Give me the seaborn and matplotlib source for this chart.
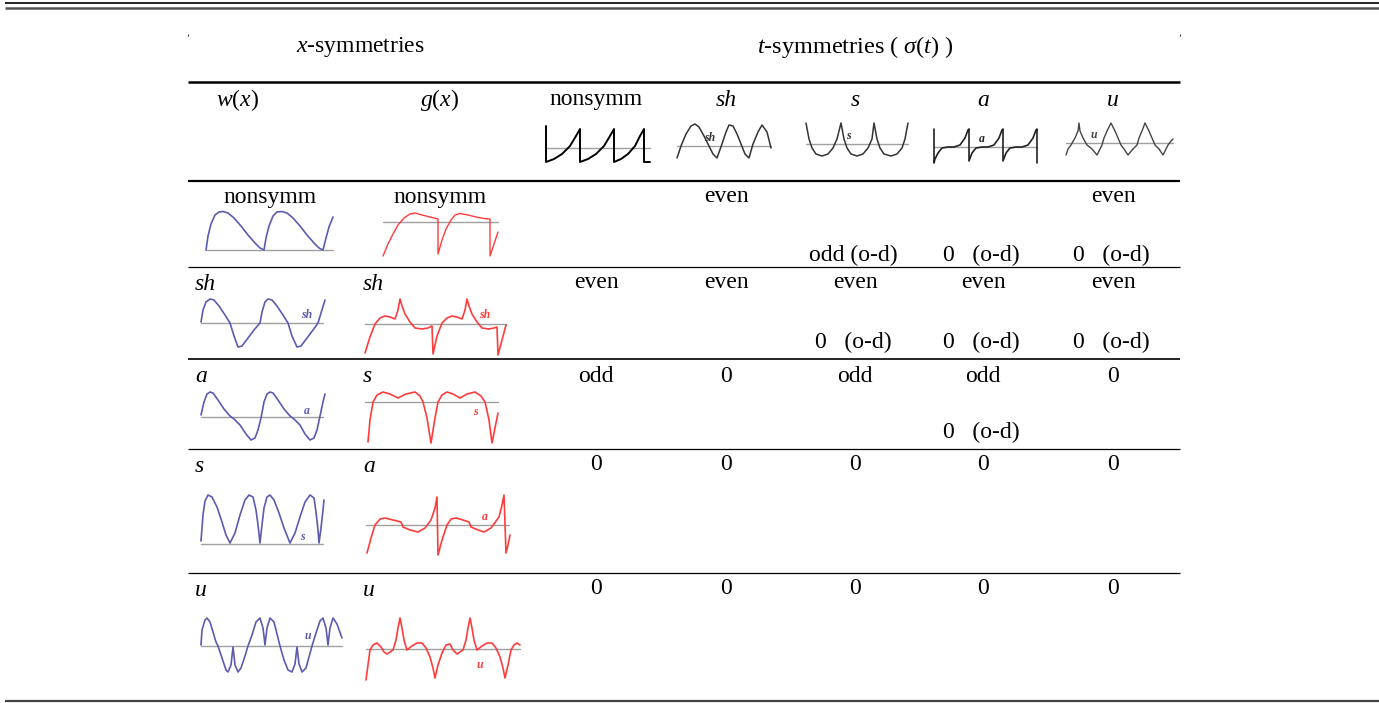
import numpy as np
import pandas as pd
import matplotlib
matplotlib.use("Agg")
import matplotlib.pyplot as plt
import seaborn as sns

sns.set_theme(style="white")
plt.rcParams['font.family'] = ['Liberation Serif', 'DejaVu Serif']
plt.rcParams['mathtext.fontset'] = 'custom'
plt.rcParams['mathtext.rm'] = 'Liberation Serif'
plt.rcParams['mathtext.it'] = 'Liberation Serif:italic'
plt.rcParams['mathtext.bf'] = 'Liberation Serif:bold'
plt.rcParams['text.color'] = 'black'

# ---------------- table content ----------------
col_headers = ['nonsymm', 'sh', 's', 'a', 'u']
col_italic = [False, True, True, True, True]
w_labels = ['nonsymm', 'sh', 'a', 's', 'u']
g_labels = ['nonsymm', 'sh', 's', 'a', 'u']
cell_top = [
    ['', 'even', '', '', 'even'],
    ['even', 'even', 'even', 'even', 'even'],
    ['odd', '0', 'odd', 'odd', '0'],
    ['0', '0', '0', '0', '0'],
    ['0', '0', '0', '0', '0'],
]
cell_bottom = [
    ['', '', 'odd (o-d)', '0   (o-d)', '0   (o-d)'],
    ['', '', '0   (o-d)', '0   (o-d)', '0   (o-d)'],
    ['', '', '', '0   (o-d)', ''],
    ['', '', '', '', ''],
    ['', '', '', '', ''],
]

# ---------------- waveform sketches ----------------
# header t-symmetry sketches sigma(t)
hdr_nonsymm_x = [0, 0, 8, 16, 24, 30, 34, 34, 42, 50, 58, 64, 68, 68, 75, 82, 89, 94, 98, 98, 104]
hdr_nonsymm_y = [22, -14, -11, -6, 2, 12, 19, -14, -11, -6, 2, 12, 19, -14, -11, -6, 2, 12, 19, -14, -14]
hdr_sh_x = [0, 4, 9, 14, 18, 22, 27, 32, 36, 40, 45, 49, 52, 56, 60, 64, 68, 72, 76, 81, 85, 90, 94]
hdr_sh_y = [-12, 0, 12, 20, 22, 19, 10, 0, -8, -12, 2, 14, 21, 20, 12, 2, -8, -12, 2, 14, 21, 14, -2]
hdr_s_x = [0, 3, 6, 10, 16, 22, 27, 31, 35, 38, 41, 45, 51, 57, 62, 66, 68, 71, 74, 78, 85, 91, 96, 99, 102]
hdr_s_y = [21, 5, -4, -10, -12, -10, -4, 5, 21, 5, -4, -10, -12, -10, -4, 5, 21, 5, -4, -10, -12, -10, -4, 5, 21]
hdr_a_x = [0, 0, 1, 4, 8, 14, 20, 26, 31, 34, 35, 35, 38, 42, 48, 54, 60, 65, 68, 69, 69, 72, 76, 82, 88, 94, 99, 102, 103, 103]
hdr_a_y = [18, -16, -12, -6, -1, 0, 0, 2, 9, 17, 18, -14, -6, -1, 0, 0, 2, 9, 17, 18, -14, -6, -1, 0, 0, 2, 9, 17, 18, -16]
hdr_u_x = [0, 2, 5, 9, 12, 13, 14, 17, 21, 26, 31, 34, 36, 38, 41, 45, 49, 52, 55, 58, 62, 67, 71, 73, 76, 79, 83, 86, 89, 93, 97, 100, 102, 105, 107]
hdr_u_y = [-12, -6, -2, 5, 12, 20, 12, 5, -2, -6, -12, -6, -2, 5, 12, 20, 12, 5, -2, -6, -12, -6, -2, 5, 12, 20, 12, 5, -2, -6, -12, -6, -2, 2, 4]

# x-symmetry sketches w(x) (blue)
w_nonsymm_x = [0, 2, 5, 9, 13, 17, 22, 28, 35, 42, 49, 54, 58, 60, 63, 67, 71, 76, 81, 87, 94, 101, 108, 113, 117, 120, 123, 127]
w_nonsymm_y = [0, 14, 26, 35, 38, 38.5, 37, 32, 24, 15, 7, 2, 0, 12, 24, 34, 38, 38.5, 37, 32, 24, 15, 7, 2, 0, 12, 23, 33]
w_sh_x = [0, 2, 5, 9, 13, 18, 24, 29, 33, 37, 41, 47, 53, 59, 61, 64, 67, 71, 76, 82, 87, 91, 96, 100, 106, 112, 117, 120, 124]
w_sh_y = [1, 13, 21, 24, 23, 17, 8, 0, -13, -24, -23, -15, -7, 0, 11, 21, 24, 23, 17, 8, 0, -13, -24, -23, -15, -7, 0, 10, 23]
w_a_x = [0, 3, 6, 9, 12, 17, 23, 29, 33, 39, 45, 50, 54, 57, 60, 63, 66, 69, 72, 77, 83, 89, 93, 99, 104, 109, 113, 116, 119, 122, 124]
w_a_y = [2, 15, 23, 25, 24, 17, 8, 1, -2, -8, -17, -23, -21, -13, -1, 15, 23, 25, 24, 17, 8, 1, -2, -8, -17, -23, -21, -13, 1, 15, 23]
w_s_x = [0, 2, 4, 7, 11, 16, 21, 25, 29, 34, 39, 44, 48, 52, 55, 57, 59, 61, 63, 66, 69, 73, 78, 83, 89, 94, 99, 104, 109, 113, 115, 117, 118, 120, 122, 123]
w_s_y = [3, 29, 43, 49, 47, 37, 22, 9, 1, 11, 29, 44, 49, 47, 34, 19, 1, 19, 36, 47, 49, 44, 31, 16, 1, 11, 27, 42, 49, 46, 32, 14, 1, 16, 34, 44]
w_u_x = [0, 1, 4, 6, 9, 12, 15, 17, 21, 25, 27, 30, 32, 34, 37, 40, 44, 47, 51, 55, 59, 62, 64, 66, 69, 73, 76, 79, 83, 87, 91, 94, 96, 98, 101, 105, 108, 111, 115, 119, 122, 125, 127, 129, 132, 136, 141]
w_u_y = [1, 16, 26, 28, 24, 14, 4, 0, -12, -24, -26, -19, -1, -19, -26, -22, -10, 0, 11, 24, 28, 18, 1, 18, 28, 24, 12, 0, -14, -24, -26, -18, -1, -18, -26, -22, -11, 0, 13, 25, 28, 18, 1, 18, 28, 22, 8]

# x-symmetry sketches g(x) (red)
g_nonsymm_x = [0, 5, 10, 15, 21, 27, 32, 39, 47, 55, 55, 59, 63, 68, 72, 77, 85, 93, 101, 107, 107, 111, 115]
g_nonsymm_y = [-34, -22, -12, -3, 4, 8, 9, 7, 5, 3, -32, -18, -7, 2, 7, 8.5, 7, 5, 3.5, 3, -34, -22, -10]
g_sh_x = [0, 5, 10, 15, 20, 25, 30, 33, 35, 37, 40, 45, 50, 57, 63, 67, 68, 72, 77, 82, 87, 92, 97, 100, 102, 104, 107, 112, 117, 124, 129, 132, 133, 137, 141]
g_sh_y = [-29, -13, 0, 6, 8, 7, 5, 14, 25, 18, 10, 2, -4, -5, -4, -2, -30, -12, 1, 6, 8, 7, 5, 14, 25, 18, 10, 2, -4, -5, -4, -3, -31, -16, -1]
g_s_x = [0, 2, 5, 9, 15, 22, 30, 38, 47, 52, 55, 59, 63, 67, 70, 74, 79, 85, 92, 99, 107, 113, 117, 121, 124, 127, 130]
g_s_y = [-40, -18, 0, 7, 10, 8, 4, 8, 10, 6, 0, -16, -41, -16, 0, 7, 10, 8, 4, 8, 10, 6, 0, -18, -41, -26, -11]
g_a_x = [0, 4, 8, 13, 18, 26, 34, 36, 43, 51, 58, 64, 68, 70, 71, 75, 80, 84, 89, 96, 102, 104, 111, 117, 124, 132, 135, 137, 139, 141, 143]
g_a_y = [-28, -13, 0, 6, 7, 5, 3, -2, -5, -7, -3, 5, 17, 28, -30, -15, 0, 6, 7, 5, 3, -2, -5, -7, -3, 8, 20, 30, -28, -20, -10]
g_u_x = [0, 2, 4, 7, 11, 15, 18, 21, 24, 27, 30, 32, 34, 36, 38, 41, 46, 51, 56, 60, 64, 67, 69, 72, 76, 80, 84, 87, 91, 94, 97, 100, 102, 104, 106, 108, 111, 116, 121, 126, 130, 134, 137, 139, 142, 145, 148, 151, 154]
g_u_y = [-31, -16, -1, 4, 6, 2, -3, -5, -3, -1, 9, 21, 31, 21, 9, -1, 3, 6, 6, 1, -8, -19, -29, -16, -4, 4, 5, -1, -5, -3, -1, 9, 21, 31, 21, 9, -1, 3, 6, 6, 1, -8, -19, -29, -16, -1, 4, 6, 4]

# ---------------- layout ----------------
W, H = 1379, 703
fig = plt.figure(figsize=(W / 100, H / 100), dpi=100)
ax = fig.add_axes([0, 0, 1, 1])
ax.set_xlim(0, W)
ax.set_ylim(H, 0)
ax.axis('off')

FS = 17
BLUE = '#5b5bb0'
RED = '#ff3c3c'
GRAY = '#a0a0a0'

# rules
ax.hlines(2.5, 5, W, color='black', lw=1.2)
ax.hlines(7.5, 5, W, color='#555555', lw=1.8)
ax.hlines(700.5, 5, W, color='#444444', lw=1.6)
ax.vlines([188, 1180], 34, 36, color='black', lw=0.6)
ax.hlines(82, 188, 1180, color='black', lw=1.8)
ax.hlines(181, 188, 1180, color='black', lw=1.6)
ax.hlines(267, 188, 1180, color='black', lw=0.9)
ax.hlines(358.5, 188, 1180, color='black', lw=1.2)
ax.hlines(449, 188, 1180, color='black', lw=0.9)
ax.hlines(573, 188, 1180, color='black', lw=0.9)

# group header
ax.text(360, 47, '$x$-symmetries', ha='center', va='center', fontsize=FS)
ax.text(855, 47, r'$t$-symmetries ( $\sigma(t)$ )', ha='center', va='center', fontsize=FS + 0.5)

# column headers
ax.text(237, 100, '$w(x)$', ha='center', va='center', fontsize=FS)
ax.text(440, 100, '$g(x)$', ha='center', va='center', fontsize=FS)
col_x = [596, 726, 855, 983, 1113]
for cx, lab, it in zip(col_x, col_headers, col_italic):
    ax.text(cx, 100, lab, ha='center', va='center', fontsize=FS,
            style='italic' if it else 'normal')

# row labels and cells
row_label_y = [197, 284, 377, 466, 590]
row_bottom_y = [255, 342, 432, 522, 646]
for i, (wl, gl) in enumerate(zip(w_labels, g_labels)):
    y = row_label_y[i]
    if wl == 'nonsymm':
        ax.text(270, y, wl, ha='center', va='center', fontsize=FS)
    else:
        ax.text(195, y, wl, ha='left', va='center', fontsize=FS, style='italic')
    if gl == 'nonsymm':
        ax.text(440, y, gl, ha='center', va='center', fontsize=FS)
    else:
        ax.text(363, y, gl, ha='left', va='center', fontsize=FS, style='italic')
    for cx, t, b in zip(col_x, cell_top[i], cell_bottom[i]):
        if t:
            ax.text(cx, y - 1, t, ha='center', va='center', fontsize=FS)
        if b:
            ax.text(cx - 2, row_bottom_y[i], b, ha='center', va='center', fontsize=FS)


def sketch(xs, ys, origin, xr, yr, color, lw=1.0, base=None, label=None, lpos=None,
           lsize=8.5, base_color=GRAY):
    left = origin[0] + xr[0]
    right = origin[0] + xr[1]
    top = origin[1] - yr[1]
    bottom = origin[1] - yr[0]
    sax = fig.add_axes([left / W, 1 - bottom / H, (right - left) / W, (bottom - top) / H])
    sax.set_xlim(*xr)
    sax.set_ylim(*yr)
    sax.axis('off')
    if base is not None:
        sax.plot(base, [0, 0], color=base_color, lw=1.0, zorder=1)
    df = pd.DataFrame({'x': xs, 'y': ys})
    sns.lineplot(data=df, x='x', y='y', ax=sax, sort=False, estimator=None,
                 color=color, lw=lw, legend=False, zorder=2)
    sax.set_xlabel('')
    sax.set_ylabel('')
    if label:
        sax.text(lpos[0], lpos[1], label, color=color, fontsize=lsize,
                 style='italic', weight='bold', ha='center', va='center')
    return sax


# header sketches
sketch(hdr_nonsymm_x, hdr_nonsymm_y, (546, 148), (-3, 107), (-18, 24), 'black', 1.4, base=(0, 104))
sketch(hdr_sh_x, hdr_sh_y, (677, 146), (-3, 97), (-16, 24), '#333333', 1.1, base=(0, 94),
       label='sh', lpos=(33, 8), lsize=8.5, )
sketch(hdr_s_x, hdr_s_y, (806, 144), (-3, 105), (-16, 24), '#333333', 1.1, base=(0, 102),
       label='s', lpos=(42, 8))
sketch(hdr_a_x, hdr_a_y, (934, 147), (-3, 107), (-18, 22), '#222222', 1.2, base=(0, 103),
       label='a', lpos=(48, 8))
sketch(hdr_u_x, hdr_u_y, (1066, 143), (-3, 110), (-16, 24), '#444444', 1.0, base=(0, 107),
       label='u', lpos=(28, 8))

# w(x) sketches (blue)
sketch(w_nonsymm_x, w_nonsymm_y, (206, 250), (-3, 130), (-4, 42), BLUE, 1.2, base=(0, 127))
sketch(w_sh_x, w_sh_y, (201, 323), (-3, 128), (-28, 28), BLUE, 1.2, base=(0, 122),
       label='sh', lpos=(106, 8))
sketch(w_a_x, w_a_y, (201, 417), (-3, 128), (-27, 28), BLUE, 1.2, base=(0, 122),
       label='a', lpos=(106, 6))
sketch(w_s_x, w_s_y, (201, 544), (-3, 128), (-4, 53), BLUE, 1.2, base=(0, 122),
       label='s', lpos=(101, 7))
sketch(w_u_x, w_u_y, (201, 646), (-3, 145), (-30, 32), BLUE, 1.2, base=(0, 141),
       label='u', lpos=(107, 10))

# g(x) sketches (red)
sketch(g_nonsymm_x, g_nonsymm_y, (383, 222), (-3, 118), (-37, 12), RED, 1.0, base=(0, 115))
sketch(g_sh_x, g_sh_y, (365, 324), (-3, 145), (-34, 28), RED, 1.2, base=(0, 141),
       label='sh', lpos=(120, 9))
sketch(g_s_x, g_s_y, (368, 402), (-6, 133), (-44, 13), RED, 1.2, base=(-3, 130),
       label='s', lpos=(107, -10))
sketch(g_a_x, g_a_y, (367, 525), (-3, 146), (-33, 33), RED, 1.2, base=(-1, 142),
       label='a', lpos=(118, 8))
sketch(g_u_x, g_u_y, (366, 649), (-3, 157), (-34, 34), RED, 1.2, base=(0, 154),
       label='u', lpos=(114, -16))

fig.savefig('out.png', dpi=100)
